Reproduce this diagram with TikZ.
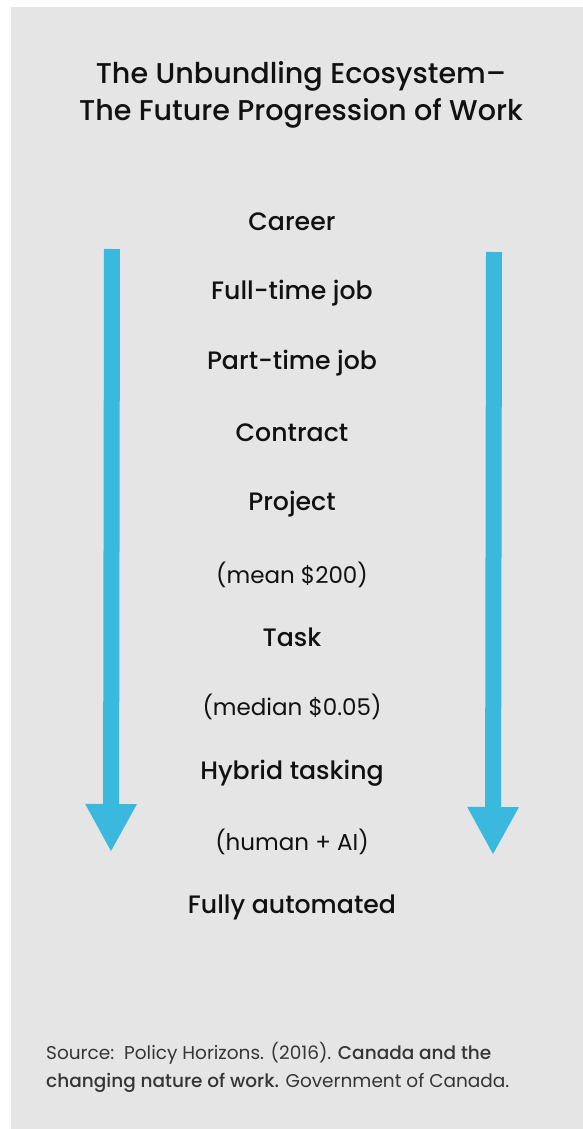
\documentclass[tikz,border=0pt]{standalone}
\usepackage{fontspec}
\setmainfont{Poppins}[BoldFont={Poppins Medium}]
\usetikzlibrary{arrows.meta}

\definecolor{panelgray}{HTML}{E5E5E5}
\definecolor{flowblue}{HTML}{3BB8DD}
\definecolor{inkblack}{HTML}{111111}

\begin{document}
\begin{tikzpicture}[x=1pt,y=-1pt,
    stage/.style={text=inkblack, font=\fontsize{25.2}{28}\selectfont\bfseries},
    note/.style={text=inkblack, font=\fontsize{23}{27}\selectfont},
    flow/.style={flowblue, line width=16pt, -{Triangle[width=48pt,length=48pt]}}]
    \useasboundingbox (0,0) rectangle (583,1129);
    \fill[panelgray] (11,7) rectangle (583,1129);
    \node[text=inkblack, align=center, font=\fontsize{28.6}{37.5}\selectfont\bfseries] (title) at (301,95)
      {The Unbundling Ecosystem--\\The Future Progression of Work};
    \node[stage] (career) at (292,222) {Career};
    \node[stage] (fulltime) at (292,293) {Full-time job};
    \node[stage] (parttime) at (292,363) {Part-time job};
    \node[stage] (contract) at (292,433) {Contract};
    \node[stage] (project) at (292,504) {Project};
    \node[note] (mean) at (292,575) {(mean \$200)};
    \node[stage] (task) at (292,637) {Task};
    \node[note] (median) at (292,707) {(median \$0.05)};
    \node[stage] (hybrid) at (292,773) {Hybrid tasking};
    \node[note] (human) at (292,842) {(human + AI)};
    \node[stage] (automated) at (292,907) {Fully automated};
    \node[anchor=north west, align=left, text=inkblack!85, inner sep=0pt,
      font=\fontsize{18.5}{28}\selectfont] (source) at (46,1042)
      {Source:\ \ Policy Horizons. (2016). \textbf{Canada and the}\\
       \textbf{changing nature of work.} Government of Canada.};
    % the two arrows
    \coordinate (ltop) at (112,249);
    \coordinate (lbot) at (111,852);
    \coordinate (rtop) at (494,252);
    \coordinate (rbot) at (493,855);
    \draw[flow] (ltop) -- (lbot);
    \draw[flow] (rtop) -- (rbot);
  \end{tikzpicture}
\end{document}
